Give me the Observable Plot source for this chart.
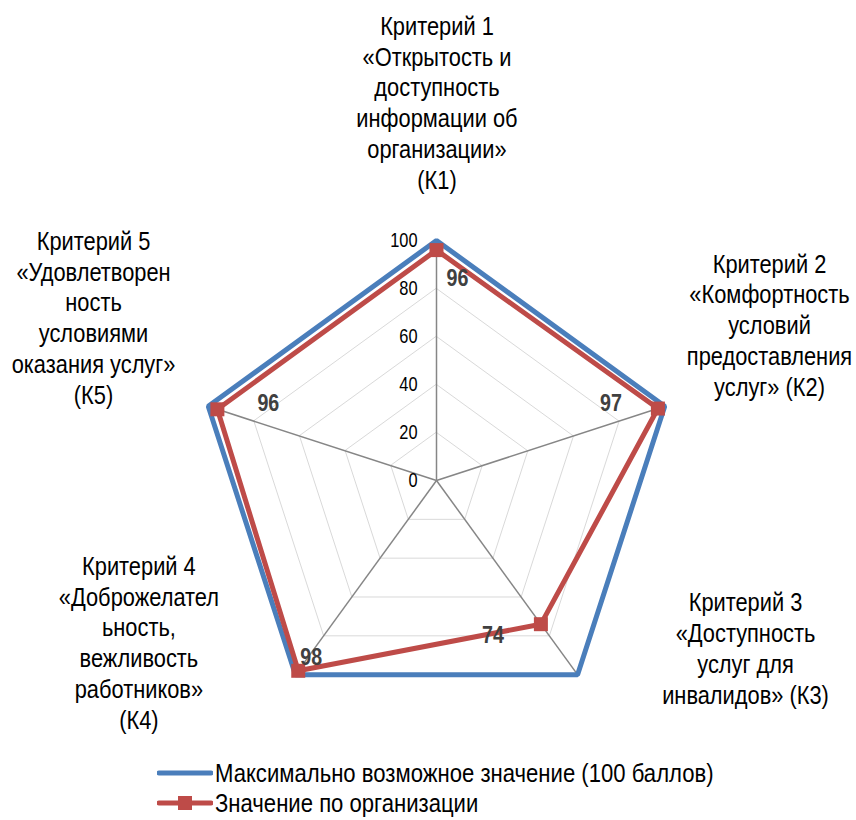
<!DOCTYPE html>
<html><head><meta charset="utf-8">
<script src="https://cdn.jsdelivr.net/npm/d3@7"></script>
<script src="https://cdn.jsdelivr.net/npm/@observablehq/plot@0.6"></script>
<style>
body{margin:0;background:#fff;font-family:"Liberation Sans",Arial,sans-serif;}
#chart svg{display:block;}
#legend{position:relative;width:856px;height:60px;}
.item{position:absolute;left:157px;display:flex;align-items:center;font-size:26px;color:#000;height:30px;white-space:nowrap;}
.item svg{display:block;margin-right:2px;}
.item span{display:inline-block;transform:scaleX(0.85);transform-origin:left center;}
</style></head><body>
<div id="chart"></div>
<div id="legend"></div>
<script>
const criteria = [
  "Критерий 1\n«Открытость и\nдоступность\nинформации об\nорганизации»\n(К1)",
  "Критерий 2\n«Комфортность\nусловий\nпредоставления\nуслуг» (К2)",
  "Критерий 3\n«Доступность\nуслуг для\nинвалидов» (К3)",
  "Критерий 4\n«Доброжелател\nьность,\nвежливость\nработников»\n(К4)",
  "Критерий 5\n«Удовлетворен\nность\nусловиями\nоказания услуг»\n(К5)"
];
const maxValues = [100, 100, 100, 100, 100];
const orgValues = [96, 97, 74, 98, 96];
const ringTicks = [0, 20, 40, 60, 80, 100];
const seriesNames = ["Максимально возможное значение (100 баллов)", "Значение по организации"];

// layout (not data): label block centers in scale units, value-label offsets in px
const labelPos = [[0.2, 157.7], [138.75, 65], [128.75, -69.6], [-124, -67.3], [-142.9, 68.1]];
const valueLabelOffset = [[21, 28], [-47, -5], [-48, 11], [13, -13], [51, -6]];

const BLUE = "#4a7ebb", RED = "#be4b48";
const n = criteria.length;
const ang = i => i * 2 * Math.PI / n;
const px = (r, i) => r * Math.sin(ang(i));
const py = (r, i) => r * Math.cos(ang(i));
const idx = d3.range(n);

const rings = ringTicks.filter(t => t > 0).flatMap(t => idx.map(i => ({t, i})));
const maxPts = idx.map(i => ({i, v: maxValues[i]}));
const orgPts = idx.map(i => ({i, v: orgValues[i]}));

const W = 856, H = 760;
const k = 2.4;
const font = '"Liberation Sans",Arial,sans-serif';

const chart = Plot.plot({
  width: W, height: H,
  margin: 0,
  style: {fontFamily: font, background: "#fff"},
  x: {domain: [-436 / k, (W - 436) / k], range: [0, W], axis: null},
  y: {domain: [-(H - 480) / k, 480 / k], range: [H, 0], axis: null},
  marks: [
    Plot.line(rings, {x: d => px(d.t, d.i), y: d => py(d.t, d.i), z: "t", curve: "linear-closed", stroke: "#d9d9d9", strokeWidth: 1}),
    Plot.link(idx, {x1: 0, y1: 0, x2: i => px(100, i), y2: i => py(100, i), stroke: "#868686", strokeWidth: 1.5}),
    Plot.text(ringTicks, {x: 0, y: d => d, text: d => String(d), textAnchor: "end", dx: -19, fontSize: 20, fill: "#000"}),
    Plot.line(maxPts, {x: d => px(d.v, d.i), y: d => py(d.v, d.i), curve: "linear-closed", stroke: BLUE, strokeWidth: 5, strokeLinejoin: "miter"}),
    Plot.line(orgPts, {x: d => px(d.v, d.i), y: d => py(d.v, d.i), curve: "linear-closed", stroke: RED, strokeWidth: 5, strokeLinejoin: "miter"}),
    Plot.dot(orgPts, {x: d => px(d.v, d.i), y: d => py(d.v, d.i), symbol: "square", r: 7.9, fill: RED, stroke: "none"}),
    ...idx.map(i => Plot.text([orgPts[i]], {x: d => px(d.v, d.i), y: d => py(d.v, d.i), text: d => String(d.v), dx: valueLabelOffset[i][0], dy: valueLabelOffset[i][1], fontSize: 24, fontWeight: "bold", fill: "#404040"})),
    Plot.text(idx, {x: i => labelPos[i][0], y: i => labelPos[i][1], text: i => criteria[i], fontSize: 26, lineHeight: 1.19, fill: "#000", textAnchor: "middle", lineAnchor: "middle"})
  ]
});
// emulate a narrow face (Arial Narrow ≈ Arial at reduced width)
chart.querySelectorAll("text").forEach(t => {
  const tr = t.getAttribute("transform") || "";
  const s = t.getAttribute("font-size") === "26" || (t.parentNode && t.parentNode.getAttribute && t.parentNode.getAttribute("font-size") === "26") ? 0.84 : 0.82;
  t.setAttribute("transform", tr + ` scale(${s},1)`);
});
document.getElementById("chart").appendChild(chart);

const legend = document.getElementById("legend");
const swatches = [
  `<svg width="56" height="14"><line x1="2" y1="7" x2="54" y2="7" stroke="${BLUE}" stroke-width="5" stroke-linecap="round"/></svg>`,
  `<svg width="56" height="16"><line x1="2" y1="8" x2="54" y2="8" stroke="${RED}" stroke-width="5" stroke-linecap="round"/><rect x="21" y="1" width="14" height="14" fill="${RED}"/></svg>`
];
seriesNames.forEach((name, j) => {
  const div = document.createElement("div");
  div.className = "item";
  div.style.top = (-2 + j * 30) + "px";
  div.innerHTML = swatches[j] + `<span>${name}</span>`;
  legend.appendChild(div);
});
</script>
</body></html>
